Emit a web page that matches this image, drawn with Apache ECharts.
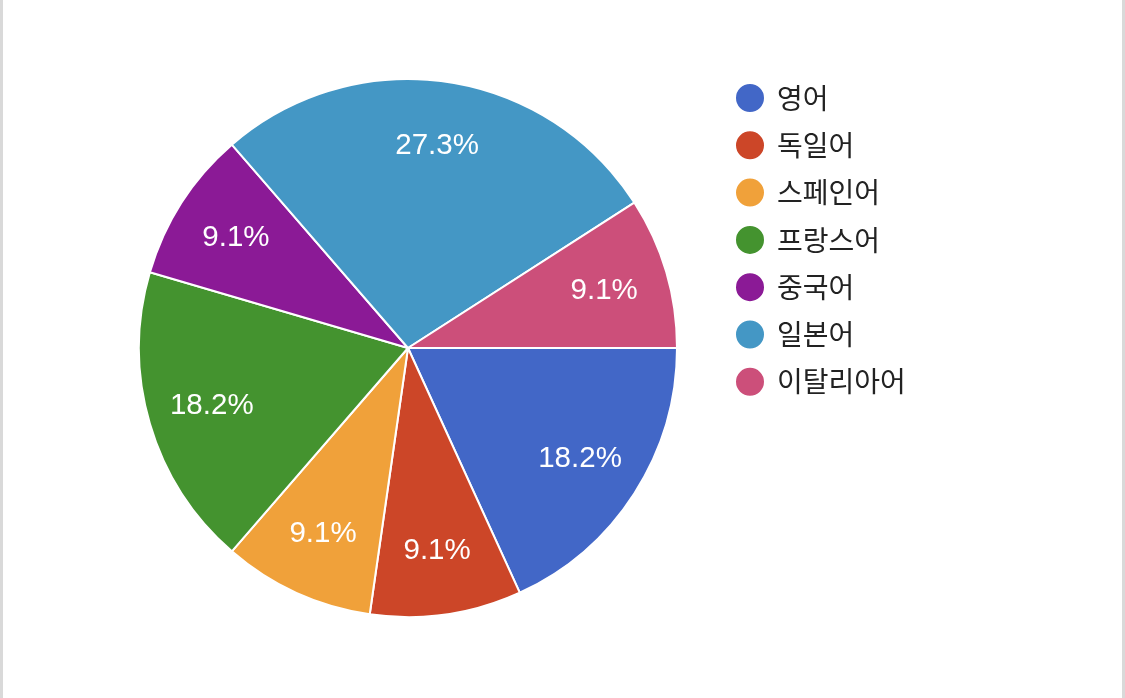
<!DOCTYPE html>
<html>
<head>
<meta charset="utf-8">
<script src="https://cdn.jsdelivr.net/npm/echarts@6/dist/echarts.min.js"></script>
<style>
  html, body { margin: 0; padding: 0; background: #fff; }
  #chart { position: absolute; left: 0; top: 0; width: 1125px; height: 698px; }
  .edge { position: absolute; top: 0; width: 3px; height: 698px; background: #d9d9d9; }
</style>
</head>
<body>
<div id="chart"></div>
<div class="edge" style="left:0"></div>
<div class="edge" style="left:1122px"></div>
<script>
const categories = ['영어', '독일어', '스페인어', '프랑스어', '중국어', '일본어', '이탈리아어'];
const counts = [2, 1, 1, 2, 1, 3, 1];
const colors = ['#4267c7', '#cc4628', '#f0a13a', '#44932f', '#8b1a96', '#4497c5', '#cc4f7a'];

const data = categories.map((name, i) => ({ name, value: counts[i] }));
const total = counts.reduce((a, b) => a + b, 0);

const chart = echarts.init(document.getElementById('chart'));
chart.setOption({
  animation: false,
  color: colors,
  legend: {
    orient: 'vertical',
    left: 734,
    top: 82,
    padding: 0,
    icon: 'circle',
    itemWidth: 30,
    itemHeight: 30,
    itemGap: 15.3,
    data: categories,
    textStyle: {
      fontFamily: '"Noto Sans CJK KR", "Liberation Sans", sans-serif',
      fontSize: 28,
      color: '#222',
      lineHeight: 30,
      padding: [0, 0, 0, 7]
    }
  },
  series: [
    {
      type: 'pie',
      center: [408, 348],
      radius: [0, 269],
      startAngle: 0,
      clockwise: true,
      data: data,
      label: { show: false },
      labelLine: { show: false },
      itemStyle: { borderColor: '#fff', borderWidth: 2 },
      emphasis: { disabled: true }
    },
    {
      type: 'pie',
      center: [408, 348],
      radius: [134, 269],
      startAngle: 0,
      clockwise: true,
      silent: true,
      data: data,
      itemStyle: { color: 'rgba(0,0,0,0)', borderWidth: 0 },
      label: {
        show: true,
        position: 'inside',
        color: '#fff',
        fontFamily: '"Liberation Sans", Arial, sans-serif',
        fontSize: 29.5,
        formatter: p => (p.value / total * 100).toFixed(1) + '%'
      },
      labelLine: { show: false },
      emphasis: { disabled: true }
    }
  ]
});
</script>
</body>
</html>
